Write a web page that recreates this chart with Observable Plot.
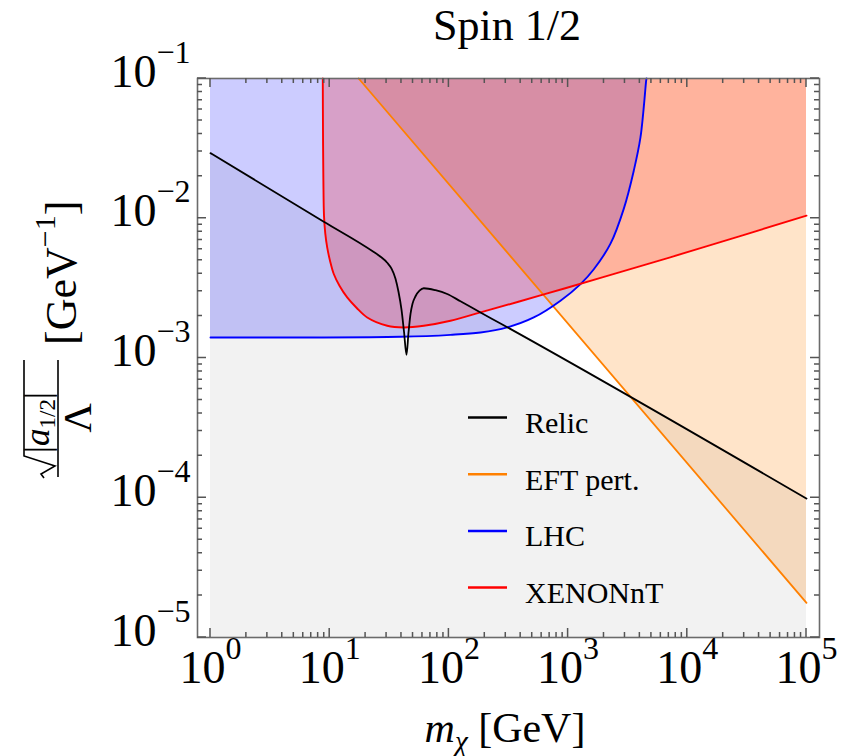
<!DOCTYPE html>
<html>
<head>
<meta charset="utf-8">
<script src="https://cdn.jsdelivr.net/npm/d3@7"></script>
<script src="https://cdn.jsdelivr.net/npm/@observablehq/plot@0.6"></script>
<style>
  html, body { margin: 0; padding: 0; background: #fff; }
  #chart { width: 841px; height: 756px; }
</style>
</head>
<body>
<div id="chart"></div>
<script>
// ---------------- data ----------------
const relicMass = [1, 8.924, 23.44, 26.69, 30.37, 33.01, 35.65, 37.77, 40.03, 42.02, 44.1, 45.8, 47.64, 49.5, 52.47, 56.68, 61.57, 77.2, 96.8, 125.1, 184.1, 271, 100000];
const relicCoupling = [0.02925, 0.009453, 0.005736, 0.005308, 0.004806, 0.004355, 0.003693, 0.002979, 0.002215, 0.001541, 0.001054, 0.001515, 0.002073, 0.002445, 0.002767, 0.003030, 0.003157, 0.003055, 0.002869, 0.002547, 0.002118, 0.001766, 0.0000986];

const eftMass = [17.5, 100000];
const eftCoupling = [0.1, 0.0000177];

const lhcMass = [1, 5.69, 39.3, 103, 184, 308, 515, 863, 1271, 1643, 2268, 2934, 3556, 4049, 4520, 4547];
const lhcCoupling = [0.001402, 0.001402, 0.001418, 0.001465, 0.001523, 0.001656, 0.00195, 0.00257, 0.00338, 0.004318, 0.006576, 0.01172, 0.0219, 0.0380, 0.0968, 0.1];

const xenonMass = [8.75, 8.785, 8.853, 8.957, 9.185, 9.528, 10.06, 10.82, 12.08, 14.02, 16.78, 20.64, 30.37, 41.84, 61.57, 103.1, 184.1, 625.5, 1870, 12900, 100000];
const xenonCoupling = [0.1, 0.04241, 0.01859, 0.01044, 0.007756, 0.006186, 0.004968, 0.003990, 0.003290, 0.002713, 0.002289, 0.001950, 0.001701, 0.001654, 0.001701, 0.001847, 0.002118, 0.002850, 0.003741, 0.006105, 0.01044];

const seriesNames = ["Relic", "EFT pert.", "LHC", "XENONnT"];
const seriesColors = ["#000000", "#ff8000", "#0000ff", "#ff0000"];

const decadesX = [1, 10, 100, 1000, 10000, 100000];
const decadesY = [1e-5, 1e-4, 1e-3, 1e-2, 1e-1];
const minorSteps = [2, 3, 4, 5, 6, 7, 8, 9];

const titleText = "Spin 1/2";

// ---------------- build ----------------
const toRows = (ms, gs) => ms.map((m, i) => ({m, g: gs[i]}));
const relic = toRows(relicMass, relicCoupling);
const eft = toRows(eftMass, eftCoupling);
const lhc = toRows(lhcMass, lhcCoupling);
const xenon = toRows(xenonMass, xenonCoupling);

const minorX = decadesX.slice(0, -1).flatMap(d => minorSteps.map(s => s * d));
const minorY = decadesY.slice(0, -1).flatMap(d => minorSteps.map(s => s * d));

const FONT = "'Liberation Serif', 'DejaVu Serif', serif";
const frameColor = "#6b6b6b";
const tickColor = "#555555";
const expFmt = d => `10^${Math.round(Math.log10(d))}`;
const yMin = decadesY[0], yMax = decadesY[decadesY.length - 1];

const W = 841, H = 756, ML = 197, MR = 22, MT = 78, MB = 119;

const smooth = "monotone-x";
const bend = "catmull-rom";

const svg = Plot.plot({
  width: W,
  height: H,
  marginLeft: ML,
  marginRight: MR,
  marginTop: MT,
  marginBottom: MB,
  x: {type: "log", domain: [decadesX[0], decadesX[decadesX.length - 1]], insetLeft: 13, insetRight: 13},
  y: {type: "log", domain: [yMin, yMax]},
  style: {fontFamily: FONT, fontSize: "46px", color: "#000", background: "#fff", overflow: "visible"},
  marks: [
    Plot.areaY(relic, {x: "m", y1: yMin, y2: "g", fill: "#000", fillOpacity: 0.05, curve: smooth}),
    Plot.areaY(eft, {x: "m", y1: "g", y2: yMax, fill: seriesColors[1], fillOpacity: 0.21}),
    Plot.areaY(lhc, {x: "m", y1: "g", y2: yMax, fill: seriesColors[2], fillOpacity: 0.2, curve: bend}),
    Plot.areaY(xenon, {x: "m", y1: "g", y2: yMax, fill: seriesColors[3], fillOpacity: 0.216, curve: bend}),
    Plot.line(eft, {x: "m", y: "g", stroke: seriesColors[1], strokeWidth: 1.8}),
    Plot.line(lhc, {x: "m", y: "g", stroke: seriesColors[2], strokeWidth: 1.9, curve: bend}),
    Plot.line(xenon, {x: "m", y: "g", stroke: seriesColors[3], strokeWidth: 1.9, curve: bend}),
    Plot.line(relic, {x: "m", y: "g", stroke: seriesColors[0], strokeWidth: 1.8, curve: smooth}),
    Plot.frame({stroke: frameColor, strokeWidth: 1.6}),
    Plot.axisX(decadesX, {anchor: "bottom", tickSize: 0, tickPadding: 13, tickFormat: expFmt, fontSize: 46, label: null}),
    Plot.axisY(decadesY, {anchor: "left", tickSize: 0, tickPadding: 7, tickFormat: expFmt, fontSize: 46, dy: -6.5, label: null})
  ]
});

document.getElementById("chart").append(svg);
const s = d3.select(svg);

// inward frame ticks on all four sides, positioned through the plot's own scales
const sx = svg.scale("x"), sy = svg.scale("y");
const xL = ML, xR = W - MR, yT = MT, yB = H - MB;
const MAJ = 9, MIN = 5;
const tickPath = [];
for (const [vals, len] of [[decadesX, MAJ], [minorX, MIN]]) {
  for (const v of vals) {
    const px = +sx.apply(v);
    tickPath.push(`M${px},${yB}V${yB - len}`, `M${px},${yT}V${yT + len}`);
  }
}
for (const [vals, len] of [[decadesY, MAJ], [minorY, MIN]]) {
  for (const v of vals) {
    const py = +sy.apply(v);
    tickPath.push(`M${xL},${py}H${xL + len}`, `M${xR},${py}H${xR - len}`);
  }
}
s.append("path")
  .attr("d", tickPath.join(""))
  .attr("fill", "none")
  .attr("stroke", tickColor)
  .attr("stroke-width", 1.5);

// superscript exponents on tick labels
s.selectAll("text").each(function () {
  const m = /^10\^(-?\d+)$/.exec(this.textContent);
  if (!m) return;
  const t = d3.select(this);
  t.text(null);
  t.append("tspan").text("10");
  t.append("tspan").attr("dy", -24).attr("font-size", 32).text(m[1].replace("-", "\u2212"));
});

// title
s.append("text")
  .attr("x", 507).attr("y", 40)
  .attr("text-anchor", "middle")
  .attr("font-family", FONT).attr("font-size", 44)
  .text(titleText);

// x label
const xl = s.append("text")
  .attr("x", 505).attr("y", 742)
  .attr("text-anchor", "middle")
  .attr("font-family", FONT).attr("font-size", 42);
xl.append("tspan").attr("font-style", "italic").text("m");
xl.append("tspan").attr("font-style", "italic").attr("font-size", 29).attr("dy", 9).text("\u03C7");
xl.append("tspan").attr("dy", -9).text(" [GeV]");

// y label (rotated)
const yl = s.append("g").attr("transform", "translate(58,335) rotate(-90)")
  .attr("font-family", FONT).attr("text-anchor", "start");
yl.append("line").attr("x1", -142).attr("x2", -25).attr("y1", 0).attr("y2", 0)
  .attr("stroke", "#000").attr("stroke-width", 1.6);
// radical sign
yl.append("path")
  .attr("d", "M-143,-14 L-139,-17 L-131,-3 L-121,-34 L-25,-34")
  .attr("fill", "none").attr("stroke", "#000").attr("stroke-width", 1.6).attr("stroke-linejoin", "miter");
const num = yl.append("text").attr("x", -118).attr("y", -9).attr("font-size", 35).attr("text-anchor", "start");
num.append("tspan").text("|");
num.append("tspan").attr("font-style", "italic").text("a");
num.append("tspan").attr("font-size", 23).attr("dy", 6).text("1/2");
num.append("tspan").attr("dy", -6).text("|");
yl.append("text").attr("x", -83).attr("y", 33).attr("text-anchor", "middle").attr("font-size", 41).text("\u039B");
const un = yl.append("text").attr("x", -10).attr("y", 18).attr("font-size", 44).attr("text-anchor", "start");
un.append("tspan").text("[GeV");
un.append("tspan").attr("font-size", 30).attr("dy", -21).text("\u22121");
un.append("tspan").attr("dy", 21).text("]");

// legend
const lg = s.append("g").attr("font-family", FONT).attr("font-size", 30).attr("text-anchor", "start");
seriesNames.forEach((name, i) => {
  const yb = 433 + i * 56.7;
  lg.append("line").attr("x1", 468).attr("x2", 507).attr("y1", yb - 15.5).attr("y2", yb - 15.5)
    .attr("stroke", seriesColors[i]).attr("stroke-width", 2.5);
  lg.append("text").attr("x", 525).attr("y", yb).attr("text-anchor", "start").text(name);
});
</script>
</body>
</html>
